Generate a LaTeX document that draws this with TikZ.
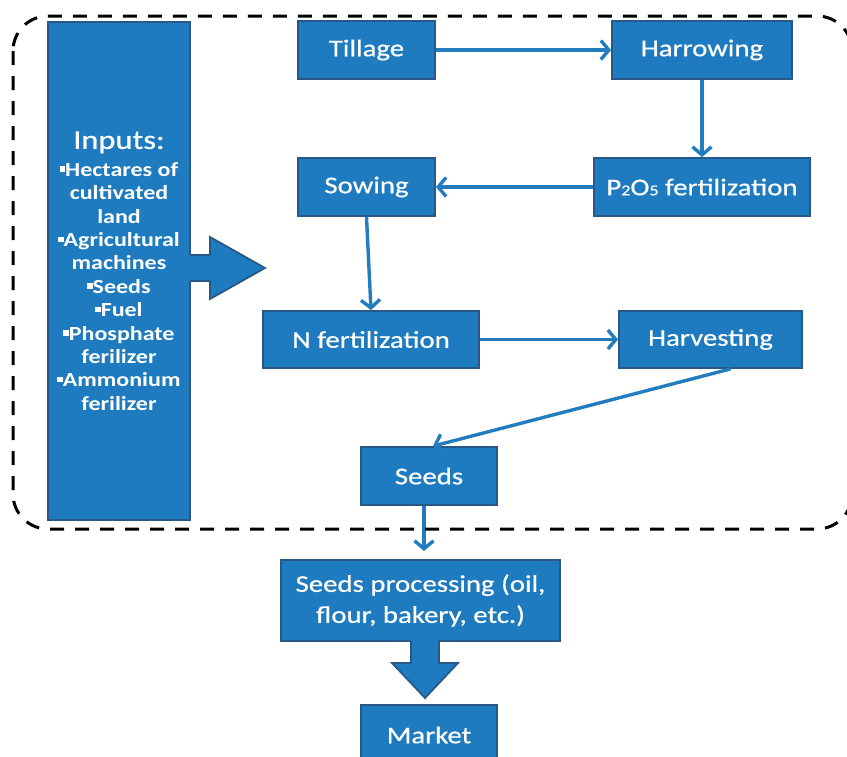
\documentclass[tikz,border=0pt]{standalone}
\usepackage{fontspec}
\setmainfont{Carlito}[FakeStretch=1.2]
\newfontfamily\lblfont{Carlito}[FakeStretch=1.2, FakeBold=0.6]
\usetikzlibrary{arrows.meta,calc}
\definecolor{boxfill}{RGB}{31,123,191}
\definecolor{boxline}{RGB}{40,88,136}
\definecolor{arrowc}{RGB}{36,124,192}
\newcommand\sqb{\raisebox{0.22em}{\rule{0.27em}{0.27em}}}
\newcommand\subn[1]{{\fontsize{15}{15}\selectfont #1}}
\tikzset{
  box/.style={draw=boxline, line width=1.8pt, fill=boxfill, text=white, inner sep=0pt,
    font=\lblfont\fontsize{24}{31}\selectfont, align=center},
  flow/.style={draw=arrowc, line width=3.4pt, -{Straight Barb[length=8pt,width=19pt]}},
  blockfill/.style={fill=boxfill},
  blockline/.style={draw=boxline, line width=1.8pt, line join=miter},
  frame/.style={draw=black, line width=3pt, dash pattern=on 14pt off 11pt, rounded corners=35pt}
}
\begin{document}
\begin{tikzpicture}[x=1pt,y=-1pt]
\useasboundingbox (0,0) rectangle (847,756);

% nodes
\node[box, minimum width=142pt, minimum height=498pt,
  font=\bfseries\fontsize{20}{23.4}\selectfont] (inputs) at (119,271)
  {{\mdseries\lblfont\fontsize{27}{27}\selectfont Inputs:}\\[4pt]
   \sqb Hectares of\\ cultivated\\ land\\ \sqb Agricultural\\ machines\\
   \sqb Seeds\\ \sqb Fuel\\ \sqb Phosphate\\ ferilizer\\ \sqb Ammonium\\ ferilizer};
\node[box, minimum width=137pt, minimum height=58pt] (tillage) at (366.5,50) {Tillage};
\node[box, minimum width=180pt, minimum height=58pt] (harrow) at (702,50) {Harrowing};
\node[box, minimum width=216pt, minimum height=58pt] (p2o5) at (702,187) {P\subn{2}O\subn{5} fertilization};
\node[box, minimum width=137pt, minimum height=58pt] (sowing) at (366.5,187) {Sowing};
\node[box, minimum width=216pt, minimum height=57pt] (nfert) at (371,339.5) {N fertilization};
\node[box, minimum width=183pt, minimum height=57pt] (harvest) at (710.5,339.5) {Harvesting};
\node[box, minimum width=136pt, minimum height=58pt] (seeds) at (429,476) {Seeds};
\node[box, minimum width=279pt, minimum height=81pt] (proc) at (420.5,600.5) {Seeds processing (oil,\\ flour, bakery, etc.)};
\node[box, minimum width=136pt, minimum height=60pt] (market) at (429,735) {Market};

% block arrows
\fill[blockfill] (188,255) -- (210,255) -- (210,237) -- (265,268) -- (210,299) -- (210,281) -- (188,281) -- cycle;
\draw[blockline] (190,255) -- (210,255) -- (210,237) -- (265,268) -- (210,299) -- (210,281) -- (190,281);
\fill[blockfill] (411,639) -- (411,663) -- (392,663) -- (425,698) -- (458,663) -- (439,663) -- (439,639) -- cycle;
\draw[blockline] (411,641) -- (411,663) -- (392,663) -- (425,698) -- (458,663) -- (439,663) -- (439,641);

% flow arrows
\draw[flow] (tillage) -- (harrow);
\draw[flow] (harrow) -- (p2o5);
\draw[flow] (p2o5) -- (sowing);
\draw[flow] (sowing.south) -- (nfert.north);
\draw[flow] (nfert) -- (harvest);
\draw[flow] ($(harvest.south)+(20,0)$) -- ($(seeds.north)+(4,0)$);
\coordinate (procin) at (424,551);
\draw[flow] (seeds.south -| procin) -- (procin);

% dashed frame
\draw[frame] (13,16) rectangle (852,529);
\end{tikzpicture}
\end{document}
